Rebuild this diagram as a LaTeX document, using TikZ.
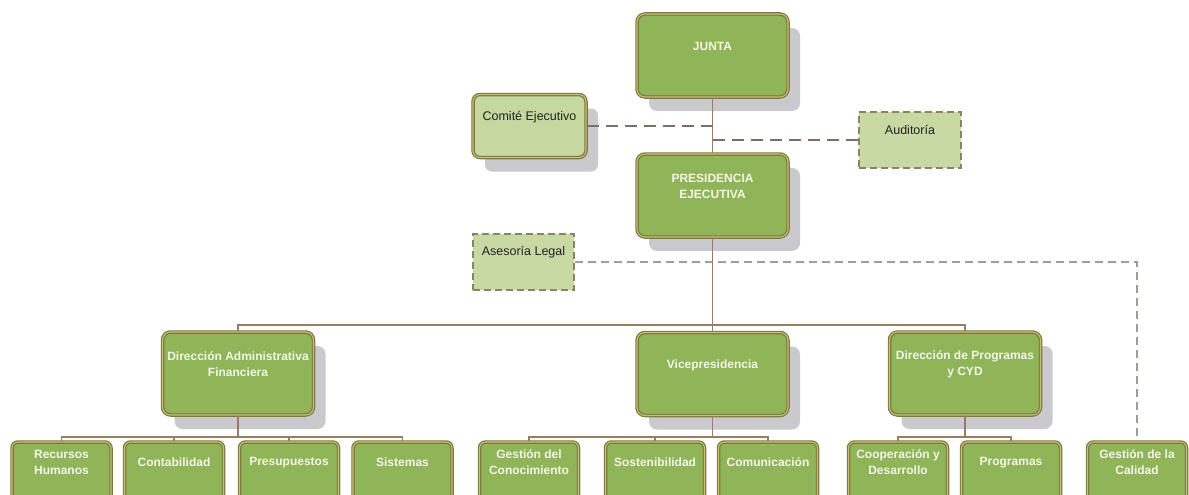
\documentclass[tikz,border=0pt]{standalone}
\usepackage{fontspec}
\setmainfont{Liberation Sans}
\usetikzlibrary{shadows}
\definecolor{dfill}{HTML}{90B558}
\definecolor{lfill}{HTML}{C5D8A0}
\definecolor{lfilld}{HTML}{C8D9A4}
\definecolor{bord}{HTML}{7E763A}
\definecolor{bordin}{HTML}{C4C17E}
\definecolor{dbord}{HTML}{8A8466}
\definecolor{shad}{HTML}{CACACE}
\definecolor{wire}{HTML}{9A7C64}
\definecolor{dashc}{HTML}{7C7065}
\definecolor{dashl}{HTML}{A29C98}
\definecolor{dtxt}{HTML}{F3F6E8}
\definecolor{ltxt}{HTML}{222222}
\tikzset{
  sh/.style={drop shadow={shadow xshift=12pt, shadow yshift=-14pt, fill=shad, opacity=1}},
  bigbox/.style={draw=bord, double=bordin, double distance=1.1pt, line width=1.2pt,
    fill=dfill, rounded corners=8pt, inner sep=0pt, minimum width=151pt, minimum height=83pt, sh},
  smallbox/.style={draw=bord, double=bordin, double distance=1.1pt, line width=1.2pt,
    fill=dfill, rounded corners=6pt, inner sep=0pt, minimum width=99pt, minimum height=70pt},
  lightbox/.style={draw=bord, double=bordin, double distance=1.1pt, line width=1.2pt,
    fill=lfill, rounded corners=7pt, inner sep=0pt, sh},
  dashbox/.style={draw=dbord, line width=1.5pt, dash pattern=on 7pt off 4pt,
    fill=lfilld, inner sep=0pt},
  dtext/.style={text=dtxt, font=\bfseries\fontsize{12}{16.5}\selectfont, align=center, inner sep=0pt},
  ltext/.style={text=ltxt, font=\fontsize{12.5}{15}\selectfont, align=center, inner sep=0pt},
  wireline/.style={draw=wire, line width=1.3pt},
  dashA/.style={draw=dashc, line width=1.3pt, dash pattern=on 12pt off 7pt},
  dashB/.style={draw=dashl, line width=1.5pt, dash pattern=on 8pt off 5pt},
}
\begin{document}
\begin{tikzpicture}[x=1pt,y=-1pt]
\useasboundingbox (0,0) rectangle (1189,495);
\clip (0,0) rectangle (1189,495);
\fill[white] (0,0) rectangle (1189,495);

% top level
\node[bigbox] (junta) at (712.5,55.5) {};
\node[dtext] (junta-t) at ([yshift=-33pt]junta.north) {JUNTA};

\node[lightbox, minimum width=113pt, minimum height=63pt] (comite) at (529.5,126) {};
\node[ltext] (comite-t) at ([yshift=-23pt]comite.north) {Comité Ejecutivo};

\node[dashbox, minimum width=102pt, minimum height=56pt] (auditoria) at (910,140) {};
\node[ltext] (auditoria-t) at ([yshift=-19pt]auditoria.north) {Auditoría};

\node[bigbox] (presidencia) at (712.5,195.5) {};
\node[dtext] (presidencia-t) at ([yshift=-33pt]presidencia.north) {PRESIDENCIA\\EJECUTIVA};

\node[dashbox, minimum width=101pt, minimum height=56pt] (asesoria) at (523.5,262) {};
\node[ltext] (asesoria-t) at ([yshift=-19pt]asesoria.north) {Asesoría Legal};

% second level
\node[bigbox] (diradm) at (238,373.5) {};
\node[dtext] (diradm-t) at ([yshift=-33pt]diradm.north) {Dirección Administrativa\\Financiera};
\node[bigbox] (vice) at (712.5,374) {};
\node[dtext] (vice-t) at ([yshift=-33pt]vice.north) {Vicepresidencia};
\node[bigbox] (dirprog) at (965,373.5) {};
\node[dtext] (dirprog-t) at ([yshift=-33pt]dirprog.north) {Dirección de Programas\\y CYD};

% bottom level
\node[smallbox] (rrhh) at (61.5,477) {};
\node[dtext] (rrhh-t) at ([yshift=-21pt]rrhh.north) {Recursos\\Humanos};
\node[smallbox] (conta) at (174,477) {};
\node[dtext] (conta-t) at ([yshift=-21pt]conta.north) {Contabilidad};
\node[smallbox] (presu) at (289,477) {};
\node[dtext] (presu-t) at ([yshift=-21pt]presu.north) {Presupuestos};
\node[smallbox] (sist) at (402.5,477) {};
\node[dtext] (sist-t) at ([yshift=-21pt]sist.north) {Sistemas};
\node[smallbox] (gcon) at (529,477) {};
\node[dtext] (gcon-t) at ([yshift=-21pt]gcon.north) {Gestión del\\Conocimiento};
\node[smallbox] (sost) at (655,477) {};
\node[dtext] (sost-t) at ([yshift=-21pt]sost.north) {Sostenibilidad};
\node[smallbox] (comu) at (768,477) {};
\node[dtext] (comu-t) at ([yshift=-21pt]comu.north) {Comunicación};
\node[smallbox] (coop) at (898,477) {};
\node[dtext] (coop-t) at ([yshift=-21pt]coop.north) {Cooperación y\\Desarrollo};
\node[smallbox] (prog) at (1011,477) {};
\node[dtext] (prog-t) at ([yshift=-21pt]prog.north) {Programas};
\node[smallbox] (gcal) at (1137,477) {};
\node[dtext] (gcal-t) at ([yshift=-21pt]gcal.north) {Gestión de la\\Calidad};

% bus levels
\coordinate (busA) at (712.5,325);
\coordinate (busB) at (0,437);

% connectors
\draw[wireline] (junta.south) -- (presidencia.north);
\draw[dashA] (comite.east) -- (comite.east -| junta.south);
\draw[dashA] (auditoria.west) -- (auditoria.west -| junta.south);
\draw[dashB] (asesoria.east) -| (gcal.north);

\draw[wireline] (presidencia.south) -- (vice.north);
\draw[wireline] (diradm.north) -- (diradm.north |- busA) -- (dirprog.north |- busA) -- (dirprog.north);

\draw[wireline] (diradm.south) -- (diradm.south |- busB);
\draw[wireline] (rrhh.north) -- (rrhh.north |- busB) -- (sist.north |- busB) -- (sist.north);
\draw[wireline] (conta.north) -- (conta.north |- busB);
\draw[wireline] (presu.north) -- (presu.north |- busB);

\draw[wireline] (vice.south) -- (vice.south |- busB);
\draw[wireline] (gcon.north) -- (gcon.north |- busB) -- (comu.north |- busB) -- (comu.north);
\draw[wireline] (sost.north) -- (sost.north |- busB);

\draw[wireline] (dirprog.south) -- (dirprog.south |- busB);
\draw[wireline] (coop.north) -- (coop.north |- busB) -- (prog.north |- busB) -- (prog.north);
\end{tikzpicture}
\end{document}
